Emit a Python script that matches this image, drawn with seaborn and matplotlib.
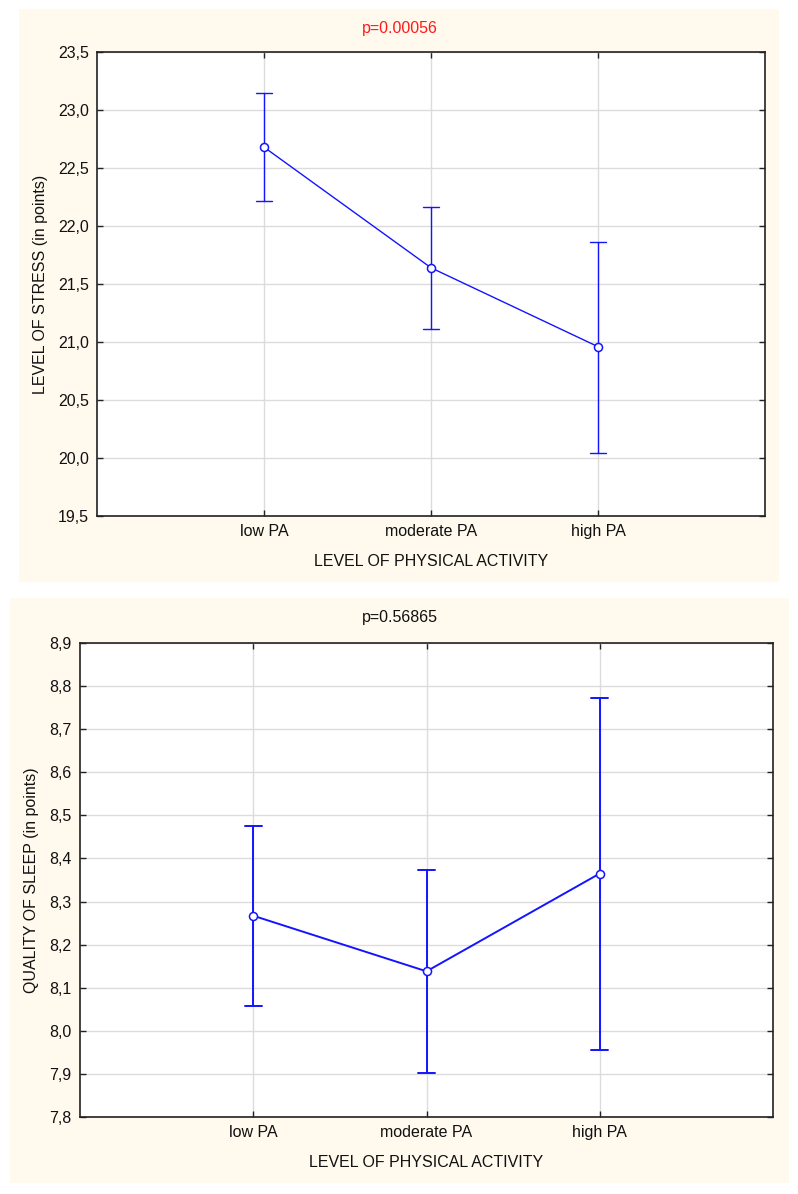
import numpy as np
import pandas as pd
import matplotlib
matplotlib.use("Agg")
import matplotlib.pyplot as plt
from matplotlib.patches import Rectangle
import seaborn as sns

categories = ["low PA", "moderate PA", "high PA"]

stress_mean = [22.68, 21.64, 20.96]
stress_low = [22.22, 21.11, 20.04]
stress_high = [23.15, 22.16, 21.86]

sleep_mean = [8.267, 8.138, 8.365]
sleep_low = [8.058, 7.901, 7.956]
sleep_high = [8.475, 8.373, 8.772]

stress_ticks = [19.5, 20.0, 20.5, 21.0, 21.5, 22.0, 22.5, 23.0, 23.5]
sleep_ticks = [7.8, 7.9, 8.0, 8.1, 8.2, 8.3, 8.4, 8.5, 8.6, 8.7, 8.8, 8.9]

sns.set_theme(style="white")
plt.rcParams["font.family"] = ["Liberation Sans", "DejaVu Sans"]

FS = 11.5
BLUE = "#1414FF"
CREAM = "#FFF9EE"
GRID = "#DCDCDC"

fig = plt.figure(figsize=(7.98, 11.94), dpi=100)
fig.patch.set_facecolor("white")
fig.patches.append(Rectangle((0.0238, 0.5126), 0.9524, 0.4799, transform=fig.transFigure,
                             facecolor=CREAM, edgecolor="none", zorder=-10))
fig.patches.append(Rectangle((0.0125, 0.0092), 0.9762, 0.4899, transform=fig.transFigure,
                             facecolor=CREAM, edgecolor="none", zorder=-10))


def long_df(lo, mid, hi):
    rows = []
    for c, a, b, d in zip(categories, lo, mid, hi):
        for v in (a, b, d):
            rows.append({"cat": c, "val": v})
    return pd.DataFrame(rows)


def panel(rect, lo, mid, hi, ticks, ylabel, ptext, pcolor, ptext_y, lw,
          ylab_x, xlab_y):
    ax = fig.add_axes(rect)
    ax.set_facecolor("white")
    df = long_df(lo, mid, hi)
    sns.pointplot(data=df, x="cat", y="val", order=categories, estimator=np.median,
                  errorbar=("pi", 100), capsize=0.1, color=BLUE, markers="o",
                  linewidth=lw, err_kws={"linewidth": lw}, ax=ax)
    for ln in ax.lines:
        if ln.get_marker() == "o":
            ln.set_markerfacecolor("white")
            ln.set_markeredgecolor(BLUE)
            ln.set_markersize(5.8)
            ln.set_markeredgewidth(1.1)
            ln.set_zorder(5)
    for coll in ax.collections:
        coll.set_facecolor("white")
        coll.set_edgecolor(BLUE)
        coll.set_sizes([34])
        coll.set_linewidth(1.1)
        coll.set_zorder(5)
    ax.set_xlim(-1, 3)
    ax.set_ylim(ticks[0], ticks[-1])
    ax.set_yticks(ticks)
    ax.set_yticklabels([f"{t:.1f}".replace(".", ",") for t in ticks], fontsize=FS)
    ax.set_xticks(range(len(categories)))
    ax.set_xticklabels(categories, fontsize=FS)
    ax.grid(True, color=GRID, linewidth=1.0)
    ax.set_axisbelow(True)
    ax.tick_params(direction="in", length=4, width=1, color="#222222",
                   top=True, right=True, bottom=True, left=True,
                   labelcolor="#111111", pad=6)
    for s in ax.spines.values():
        s.set_visible(True)
        s.set_color("#222222")
        s.set_linewidth(1.2)
    ax.set_xlabel("LEVEL OF PHYSICAL ACTIVITY", fontsize=FS, color="#111111")
    ax.set_ylabel(ylabel, fontsize=FS, color="#111111")
    ax.xaxis.set_label_coords(0.5, xlab_y)
    ax.xaxis.label.set_va("center")
    ax.yaxis.set_label_coords(ylab_x, 0.5)
    ax.yaxis.label.set_va("center")
    fig.text(0.501, ptext_y, ptext, color=pcolor, fontsize=FS, ha="center", va="center")
    return ax


panel([0.1216, 0.5678, 0.8371, 0.3886], stress_low, stress_mean, stress_high,
      stress_ticks, "LEVEL OF STRESS (in points)", "p=0.00056", "#FF1A1A", 0.9765,
      1.0, -0.0853, -0.099)
panel([0.1003, 0.0645, 0.8684, 0.3970], sleep_low, sleep_mean, sleep_high,
      sleep_ticks, "QUALITY OF SLEEP (in points)", "p=0.56865", "#111111", 0.4832,
      1.4, -0.0707, -0.097)

fig.savefig("out.png", dpi=100)
